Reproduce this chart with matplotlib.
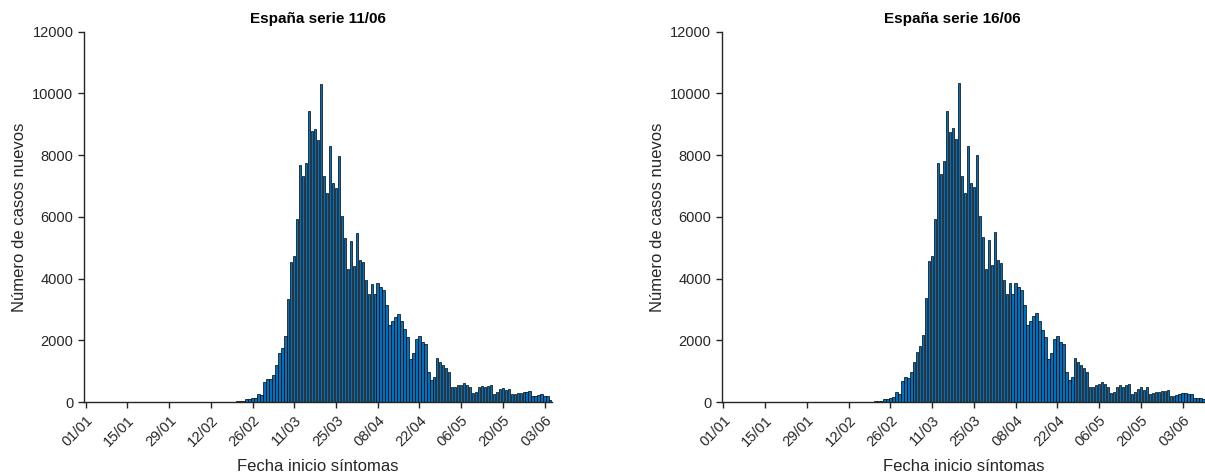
import numpy as np
import matplotlib
matplotlib.use("Agg")
import matplotlib.pyplot as plt

plt.rcParams['font.family'] = ['Liberation Sans', 'DejaVu Sans']

# casos nuevos por fecha de inicio de sintomas, desde el 01/01
serie_11_06 = [
    0, 0, 0, 1, 0, 0, 0, 0, 0, 1, 0, 0, 0, 0, 1, 0, 0, 0, 0, 0,
    1, 0, 1, 0, 0, 1, 0, 1, 0, 1, 1, 0, 1, 2, 1, 1, 2, 1, 2, 3,
    2, 3, 4, 3, 5, 6, 8, 10, 12, 20, 25, 30, 36, 42,
    100, 110, 140, 150, 280, 240, 660, 765, 745, 895,
    1220, 1600, 1760, 2135, 3340, 4530, 4720, 5920, 7690, 7340,
    7750, 9430, 8765, 8844, 8478, 10300, 7340, 6770, 8290, 7087,
    6946, 7985, 6039, 5327, 4304, 5220, 4421, 5489, 4595, 4530,
    3948, 3513, 3818, 3513, 3852, 3742, 3650, 3145, 2510, 2632,
    2745, 2855, 2632, 2362, 2124, 1392, 1586, 2039, 2146, 1942,
    1888, 985, 721, 819, 1440, 1294, 1200, 1100, 970, 507,
    507, 572, 572, 636, 550, 507, 313, 318, 507, 540,
    507, 540, 550, 280, 330, 425, 453, 400, 430, 255,
    280, 305, 305, 330, 340, 360, 190, 190, 245, 270,
    215, 195, 60,
]

serie_16_06 = [
    0, 0, 0, 1, 0, 0, 0, 0, 0, 1, 0, 0, 0, 0, 1, 0, 0, 0, 0, 0,
    1, 0, 1, 0, 0, 1, 0, 1, 0, 1, 1, 0, 1, 2, 1, 1, 2, 1, 2, 3,
    2, 3, 4, 3, 5, 6, 8, 10, 12, 20, 25, 30, 36, 42,
    100, 115, 145, 160, 340, 280, 690, 820, 790, 990,
    1315, 1640, 1810, 2180, 3365, 4580, 4750, 5925, 7735, 7390,
    7820, 9440, 8760, 8866, 8510, 10345, 7335, 6765, 8305, 7090,
    6970, 7995, 6040, 5338, 4320, 5252, 4440, 5500, 4610, 4518,
    3958, 3505, 3851, 3505, 3851, 3722, 3635, 3139, 2512, 2641,
    2793, 2880, 2631, 2340, 2103, 1392, 1586, 2039, 2146, 1942,
    1887, 980, 722, 830, 1434, 1305, 1208, 1100, 975, 507,
    507, 572, 580, 647, 594, 507, 313, 335, 507, 550,
    496, 550, 583, 270, 335, 442, 486, 400, 486, 260,
    290, 320, 330, 350, 370, 395, 194, 200, 250, 270,
    300, 290, 280, 280, 150, 150, 150, 108,
]

etiquetas_fecha = ['01/01', '15/01', '29/01', '12/02', '26/02', '11/03',
                   '25/03', '08/04', '22/04', '06/05', '20/05', '03/06']

# titulo, datos, caja de ejes, posicion x del titulo (fraccion del eje)
paneles = [
    ('España serie 11/06', serie_11_06, [0.0696, 0.1513, 0.3885, 0.7822], 0.5),
    ('España serie 16/06', serie_16_06, [0.5989, 0.1513, 0.4011, 0.7822], 0.477),
]

fig = plt.figure(figsize=(12.05, 4.74), dpi=100)
gris = '#262626'

for titulo, casos, caja, xt in paneles:
    ax = fig.add_axes(caja)
    dias = np.arange(len(casos))
    ax.bar(dias, casos, width=0.8, color='#0072BD',
           edgecolor='black', linewidth=0.5)

    ax.set_xlim(-0.6, len(casos) - 0.5)
    ax.set_ylim(0, 12000)
    ax.set_yticks(np.arange(0, 12001, 2000))
    ax.set_xticks(np.arange(0, 14 * len(etiquetas_fecha), 14))
    ax.set_xticklabels(etiquetas_fecha, rotation=45, ha='right',
                       rotation_mode='anchor')

    for lado in ('top', 'right'):
        ax.spines[lado].set_visible(False)
    for lado in ('left', 'bottom'):
        ax.spines[lado].set_color(gris)
        ax.spines[lado].set_linewidth(1.0)
    ax.tick_params(direction='out', length=4, width=1.0, colors=gris,
                   labelsize=10.5, labelcolor=gris)
    ax.tick_params(axis='x', pad=4)

    ax.set_ylabel('Número de casos nuevos', fontsize=12, color=gris)
    ax.set_xlabel('Fecha inicio síntomas', fontsize=12, color=gris,
                  labelpad=7)
    ax.set_title(titulo, fontsize=11, fontweight='bold', pad=6, x=xt)

fig.savefig('out.png', dpi=100)
